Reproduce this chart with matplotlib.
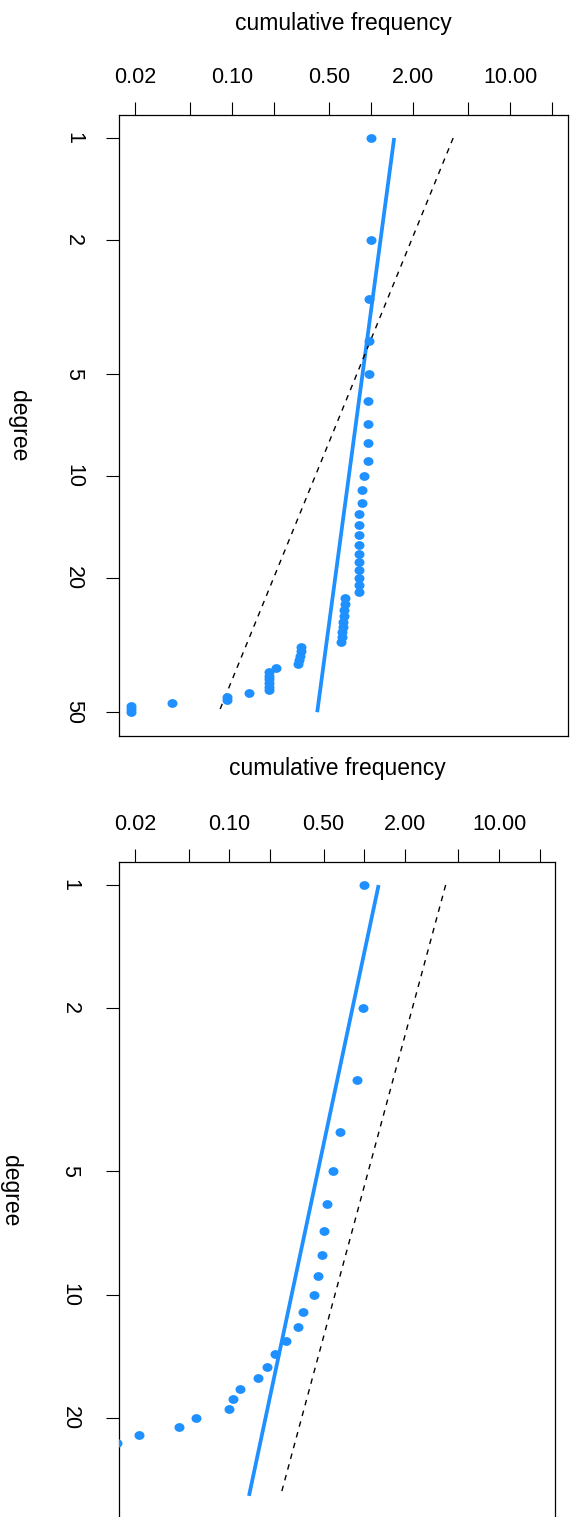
import matplotlib
matplotlib.use('Agg')
import matplotlib.pyplot as plt
from matplotlib.path import Path

plt.rcParams['font.family'] = ['Liberation Sans', 'DejaVu Sans']

# upper panel: degree vs cumulative frequency
deg1 = list(range(1, 51))
freq1 = [1.0, 0.99, 0.955, 0.955, 0.955, 0.95, 0.95, 0.95, 0.95, 0.883,
         0.855, 0.855, 0.82, 0.818, 0.818, 0.818, 0.818, 0.818, 0.818, 0.818,
         0.818, 0.818, 0.65, 0.645, 0.64, 0.636, 0.63, 0.625, 0.62, 0.614,
         0.607, 0.313, 0.31, 0.305, 0.30, 0.295, 0.206, 0.184, 0.184, 0.184,
         0.184, 0.184, 0.184, 0.131, 0.092, 0.092, 0.037, 0.0186, 0.0186, 0.0186]
line_deg1 = [1, 50]
fit1 = [1.46, 0.408]   # solid fitted line
ref1 = [3.88, 0.080]   # dashed line

# lower panel
deg2 = list(range(1, 24))
freq2 = [1.0, 0.98, 0.887, 0.66, 0.589, 0.526, 0.502, 0.488, 0.451, 0.426,
         0.353, 0.324, 0.263, 0.218, 0.189, 0.162, 0.121, 0.107, 0.099, 0.0567,
         0.0424, 0.0214, 0.0147]
line_deg2 = [1, 31]
fit2 = [1.28, 0.140]
ref2 = [4.02, 0.240]

xticks = [0.02, 0.05, 0.1, 0.2, 0.5, 1, 2, 5, 10, 20]
xticklabels = ['0.02', '', '0.10', '', '0.50', '', '2.00', '', '10.00', '']
yticks1 = [1, 2, 5, 10, 20, 50]
yticks2 = [1, 2, 5, 10, 20]

blue = '#1E90FF'
circ = Path.unit_circle()
dot = Path(circ.vertices * [1.0, 0.88], circ.codes)  # points look a bit flattened

W, H = 577, 1517
fig = plt.figure(figsize=(W / 100, H / 100), dpi=100)
ax1 = fig.add_axes([119 / W, (H - 736) / H, 449 / W, 621 / H])
ax2 = fig.add_axes([119.3 / W, (H - 1520) / H, 435.7 / W, 658.3 / H])

panels = [
    (ax1, deg1, freq1, line_deg1, fit1, ref1, yticks1, (58.8, 0.855), 15.5, -101 / 449, 91.7 / 621),
    (ax2, deg2, freq2, line_deg2, fit2, ref2, yticks2, (35.5, 0.877), 18.4, -108.6 / 435.7, 93.4 / 658.3),
]

for ax, deg, freq, ldeg, fit, ref, yt, ylim, ypad, ylab_x, xlab_dy in panels:
    ax.plot(freq, deg, ls='none', marker=dot, ms=7.2, mew=0, color=blue, zorder=3)
    ax.plot(fit, ldeg, color=blue, lw=2.7, solid_capstyle='butt', zorder=2)
    ax.plot(ref, ldeg, color='black', lw=1.0, dashes=(4, 4), zorder=2)

    ax.set_xscale('log')
    ax.set_yscale('log')
    ax.set_xlim(0.0153, 26.0)
    ax.set_ylim(*ylim)

    ax.xaxis.tick_top()
    ax.set_xticks(xticks, xticklabels)
    ax.set_yticks(yt, [str(v) for v in yt], rotation=-90, va='center')
    ax.minorticks_off()
    ax.tick_params(axis='x', length=9.5, width=0.8, pad=10, labelsize=15.5)
    ax.tick_params(axis='y', length=9.5, width=0.8, pad=ypad, labelsize=15.5)
    for s in ax.spines.values():
        s.set_linewidth(0.9)

    ax.set_xlabel('cumulative frequency', fontsize=16.5, va='center')
    ax.xaxis.set_label_coords(0.5, 1 + xlab_dy)
    ax.set_ylabel('degree', fontsize=16.5, rotation=-90, va='center', ha='center')
    ax.yaxis.set_label_coords(ylab_x, 0.5)

fig.savefig('out.png', dpi=100)
